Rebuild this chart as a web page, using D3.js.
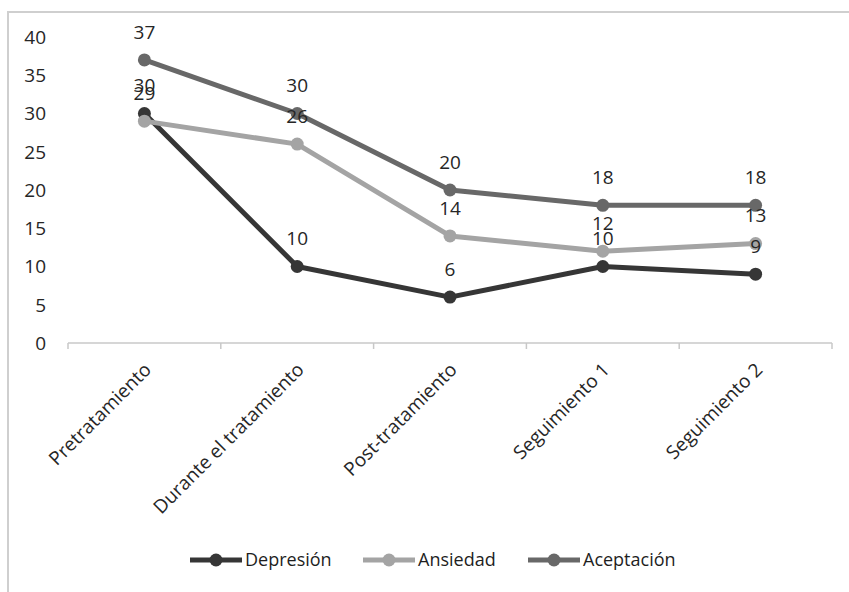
<!DOCTYPE html>
<html>
<head>
<meta charset="utf-8">
<script src="https://cdn.jsdelivr.net/npm/d3@7"></script>
<style>
  html, body { margin: 0; padding: 0; background: #fff; }
  svg { display: block; font-family: "Open Sans", sans-serif; }
</style>
</head>
<body>
<svg id="chart" width="849" height="592"></svg>
<script>
// Time points and scores per scale
const categories = ["Pretratamiento", "Durante el tratamiento", "Post-tratamiento", "Seguimiento 1", "Seguimiento 2"];
const depresion  = [30, 10, 6, 10, 9];
const ansiedad   = [29, 26, 14, 12, 13];
const aceptacion = [37, 30, 20, 18, 18];
const seriesNames = ["Depresión", "Ansiedad", "Aceptación"];
const seriesColors = ["#363636", "#a4a4a4", "#686868"];
const yTicks = [0, 5, 10, 15, 20, 25, 30, 35, 40];

const series = [depresion, ansiedad, aceptacion].map((values, i) => ({
  name: seriesNames[i], color: seriesColors[i], values
}));

const svg = d3.select("#chart");
const textColor = "#262626";

// chart frame (top and left edges visible)
svg.append("path")
  .attr("d", "M8,592 L8,12 L849,12")
  .attr("fill", "none")
  .attr("stroke", "#cfcfcf")
  .attr("stroke-width", 2);

const plot = { left: 68, right: 832, top: 37, bottom: 343 };

const x = d3.scaleBand().domain(categories).range([plot.left, plot.right]).padding(0);
const y = d3.scaleLinear().domain([0, 40]).range([plot.bottom, plot.top]);
const cx = c => x(c) + x.bandwidth() / 2;

// category axis
const xAxis = svg.append("g");
xAxis.append("line")
  .attr("x1", plot.left).attr("x2", plot.right)
  .attr("y1", plot.bottom).attr("y2", plot.bottom)
  .attr("stroke", "#c8c8c8").attr("stroke-width", 1.5);
const tickPos = categories.map(c => x(c)).concat([plot.right]);
xAxis.selectAll("line.tick").data(tickPos).enter().append("line")
  .attr("class", "tick")
  .attr("x1", d => d).attr("x2", d => d)
  .attr("y1", plot.bottom).attr("y2", plot.bottom + 6)
  .attr("stroke", "#c8c8c8").attr("stroke-width", 1.5);
xAxis.selectAll("text").data(categories).enter().append("text")
  .attr("transform", d => `translate(${cx(d) + 8},${plot.bottom + 28}) rotate(-45)`)
  .attr("text-anchor", "end")
  .attr("font-size", 19)
  .attr("fill", textColor)
  .text(d => d);

// value axis labels
svg.append("g").selectAll("text").data(yTicks).enter().append("text")
  .attr("x", 46)
  .attr("y", d => y(d))
  .attr("dy", "0.36em")
  .attr("text-anchor", "end")
  .attr("font-size", 19)
  .attr("fill", textColor)
  .text(d => d);

// lines and markers
const line = d3.line()
  .x((d, i) => cx(categories[i]))
  .y(d => y(d));

const sg = svg.append("g").selectAll("g").data(series).enter().append("g");
sg.append("path")
  .attr("d", d => line(d.values))
  .attr("fill", "none")
  .attr("stroke", d => d.color)
  .attr("stroke-width", 5)
  .attr("stroke-linejoin", "round");
sg.selectAll("circle").data(d => d.values.map((v, i) => ({ v, i, color: d.color }))).enter()
  .append("circle")
  .attr("cx", d => cx(categories[d.i]))
  .attr("cy", d => y(d.v))
  .attr("r", 6.5)
  .attr("fill", d => d.color);

// data labels above each point
const lg = svg.append("g");
series.forEach(s => {
  lg.selectAll(null).data(s.values).enter().append("text")
    .attr("x", (d, i) => cx(categories[i]))
    .attr("y", d => y(d) - 28)
    .attr("dy", "0.36em")
    .attr("text-anchor", "middle")
    .attr("font-size", 19)
    .attr("fill", textColor)
    .text(d => d);
});

// legend
const legendItems = [
  { x: 190, textX: 245 },
  { x: 363, textX: 418 },
  { x: 528, textX: 583 }
];
const legY = 560;
const leg = svg.append("g").selectAll("g").data(series).enter().append("g");
leg.append("line")
  .attr("x1", (d, i) => legendItems[i].x)
  .attr("x2", (d, i) => legendItems[i].x + 52)
  .attr("y1", legY).attr("y2", legY)
  .attr("stroke", d => d.color)
  .attr("stroke-width", 5);
leg.append("circle")
  .attr("cx", (d, i) => legendItems[i].x + 26)
  .attr("cy", legY)
  .attr("r", 6.5)
  .attr("fill", d => d.color);
leg.append("text")
  .attr("x", (d, i) => legendItems[i].textX)
  .attr("y", legY)
  .attr("dy", "0.36em")
  .attr("font-size", 18)
  .attr("fill", "#1e1e1e")
  .text(d => d.name);
</script>
</body>
</html>
